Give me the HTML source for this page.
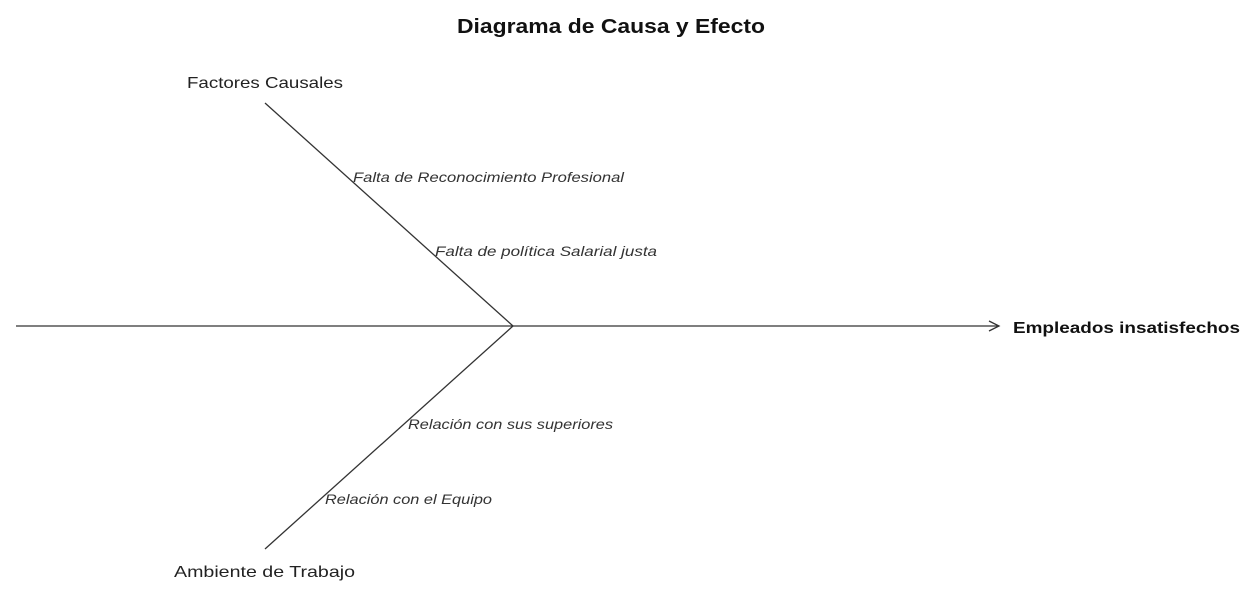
<!DOCTYPE html>
<html><head><meta charset="utf-8"><style>
html,body{margin:0;padding:0;background:#fff;}
svg{display:block;font-family:"Liberation Sans","DejaVu Sans",sans-serif;}
</style></head><body>
<svg width="1252" height="603" viewBox="0 0 1252 603" xmlns="http://www.w3.org/2000/svg">
<text x="457" y="33" font-size="20" font-weight="bold" fill="#111" textLength="308" lengthAdjust="spacingAndGlyphs">Diagrama de Causa y Efecto</text>
<line x1="16" y1="326" x2="999" y2="326" stroke="#333" stroke-width="1.3"/>
<polyline points="989,321 999,326 989,331" fill="none" stroke="#333" stroke-width="1.3"/>
<text x="1013" y="333" font-size="16" font-weight="bold" fill="#111" textLength="227" lengthAdjust="spacingAndGlyphs">Empleados insatisfechos</text>
<line x1="265" y1="103" x2="513" y2="326" stroke="#333" stroke-width="1.3"/>
<line x1="513" y1="326" x2="265" y2="549" stroke="#333" stroke-width="1.3"/>
<text x="187" y="88" font-size="16" fill="#222" textLength="156" lengthAdjust="spacingAndGlyphs">Factores Causales</text>
<text x="174" y="577" font-size="16" fill="#222" textLength="181" lengthAdjust="spacingAndGlyphs">Ambiente de Trabajo</text>
<g font-size="14" font-style="italic" fill="#333">
<text x="353" y="182" textLength="271" lengthAdjust="spacingAndGlyphs">Falta de Reconocimiento Profesional</text>
<text x="435" y="256" textLength="222" lengthAdjust="spacingAndGlyphs">Falta de política Salarial justa</text>
<text x="408" y="429" textLength="205" lengthAdjust="spacingAndGlyphs">Relación con sus superiores</text>
<text x="325" y="504" textLength="167" lengthAdjust="spacingAndGlyphs">Relación con el Equipo</text>
</g>
</svg>
</body></html>
